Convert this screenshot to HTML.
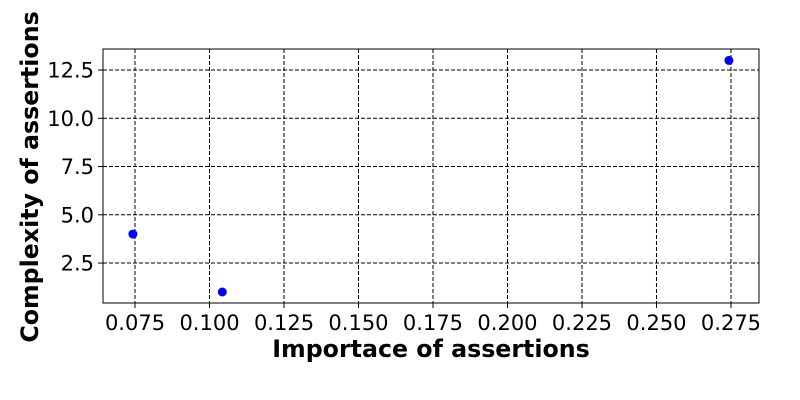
<!DOCTYPE html>
<html>
<head>
<meta charset="utf-8">
<style>
html,body{margin:0;padding:0;background:#fff;}
svg{display:block;font-family:"DejaVu Sans","Liberation Sans",sans-serif;}
</style>
</head>
<body>
<svg id="chart" width="800" height="400" viewBox="0 0 800 400" xmlns="http://www.w3.org/2000/svg">
<rect x="0" y="0" width="800" height="400" fill="#fff"/>
<g id="grid"></g>
<g id="ticks"></g>
<g id="points"></g>
<rect x="103" y="49" width="656" height="254" fill="none" stroke="#000" stroke-width="1"/>
<text x="431" y="357" text-anchor="middle" font-size="23.7" font-weight="bold">Importace of assertions</text>
<text transform="translate(38,177) rotate(-90)" text-anchor="middle" font-size="23.7" font-weight="bold">Complexity of assertions</text>
</svg>
<script>
const xValues = [0.0743, 0.1043, 0.2743];
const yValues = [4, 1, 13];
const xTicks = [0.075, 0.100, 0.125, 0.150, 0.175, 0.200, 0.225, 0.250, 0.275];
const xTickLabels = ["0.075","0.100","0.125","0.150","0.175","0.200","0.225","0.250","0.275"];
const yTicks = [2.5, 5.0, 7.5, 10.0, 12.5];
const yTickLabels = ["2.5","5.0","7.5","10.0","12.5"];

const L=103,R=759,T=49,B=303;
const xMin=0.06426,xMax=0.2844,yMin=0.43,yMax=13.59;
const sx=v=>L+(v-xMin)/(xMax-xMin)*(R-L);
const sy=v=>B-(v-yMin)/(yMax-yMin)*(B-T);
const NS="http://www.w3.org/2000/svg";
const grid=document.getElementById('grid'),ticks=document.getElementById('ticks'),pts=document.getElementById('points');
function mk(tag,attrs,parent){const e=document.createElementNS(NS,tag);for(const k in attrs)e.setAttribute(k,attrs[k]);parent.appendChild(e);return e;}
xTicks.forEach((v,i)=>{
  const x=sx(v);
  const g=mk('line',{x1:x,x2:x,y1:T,y2:B,stroke:'#000','stroke-dasharray':'4,2','stroke-width':1},grid);
  
  
  const t=mk('line',{x1:x,x2:x,y1:B,y2:B+5,stroke:'#000'},ticks);
  
  
  const l=mk('text',{x:x,y:B+27,'text-anchor':'middle','font-size':21},ticks);
  l.textContent=xTickLabels[i];
  
  
});
yTicks.forEach((v,i)=>{
  const y=sy(v);
  const g=mk('line',{x1:L,x2:R,y1:y,y2:y,stroke:'#000','stroke-dasharray':'4,2','stroke-width':1},grid);
  
  
  const t=mk('line',{x1:L-5,x2:L,y1:y,y2:y,stroke:'#000'},ticks);
  
  
  const l=mk('text',{x:L-9,y:y+7.5,'text-anchor':'end','font-size':21},ticks);
  l.textContent=yTickLabels[i];
  
  
});
xValues.forEach((v,i)=>{
  const c=mk('circle',{cx:sx(v),cy:sy(yValues[i]),r:4.5,fill:'#0000ff'},pts);
  
  
});
</script>
</body>
</html>
